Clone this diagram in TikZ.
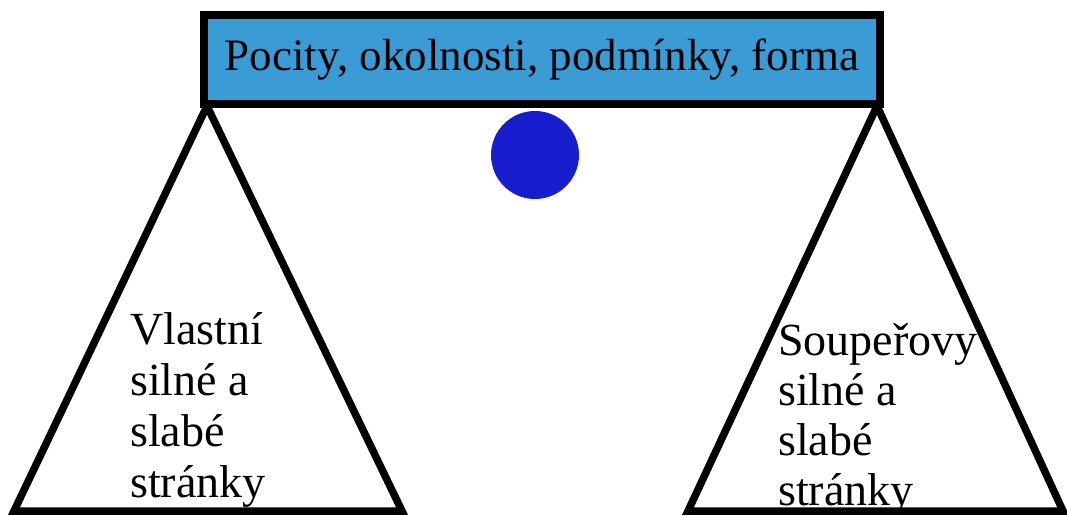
\documentclass[tikz,border=0pt]{standalone}
\usepackage{fontspec}
\setmainfont{Liberation Serif}
\definecolor{boxblue}{RGB}{58,155,213}
\definecolor{ballblue}{RGB}{24,30,205}
\begin{document}
\begin{tikzpicture}[x=1pt,y=-1pt,
  thick line/.style={line width=7.5pt, draw=black, line join=miter},
  bodytext/.style={inner sep=0pt, align=left, anchor=base west}]
\useasboundingbox (0,0) rectangle (1067,516);
% triangles
\coordinate (LA) at (207,106);
\coordinate (LB) at (14,511);
\coordinate (LC) at (402,511);
\coordinate (RA) at (877,106);
\coordinate (RB) at (688,511);
\coordinate (RC) at (1063,511);
\draw[thick line] (LA) -- (LB) -- (LC) -- cycle;
\draw[thick line] (RA) -- (RB) -- (RC) -- cycle;
% top box
\node[thick line, fill=boxblue, minimum width=676pt, minimum height=89pt, inner sep=0pt,
      font=\fontsize{45}{50}\selectfont] (top) at (542,59.5) {Pocity, okolnosti, podmínky, forma};
% ball
\node[circle, fill=ballblue, minimum size=88pt, inner sep=0pt] (ball) at (535,155) {};
% texts
\node[bodytext, font=\fontsize{46}{51}\selectfont] (own) at (130,497) {Vlastní\\silné a\\slabé\\stránky};
\node[bodytext, font=\fontsize{46}{50}\selectfont] (opp) at (778,505) {Soupeřovy\\silné a\\slabé\\stránky};
\end{tikzpicture}
\end{document}
